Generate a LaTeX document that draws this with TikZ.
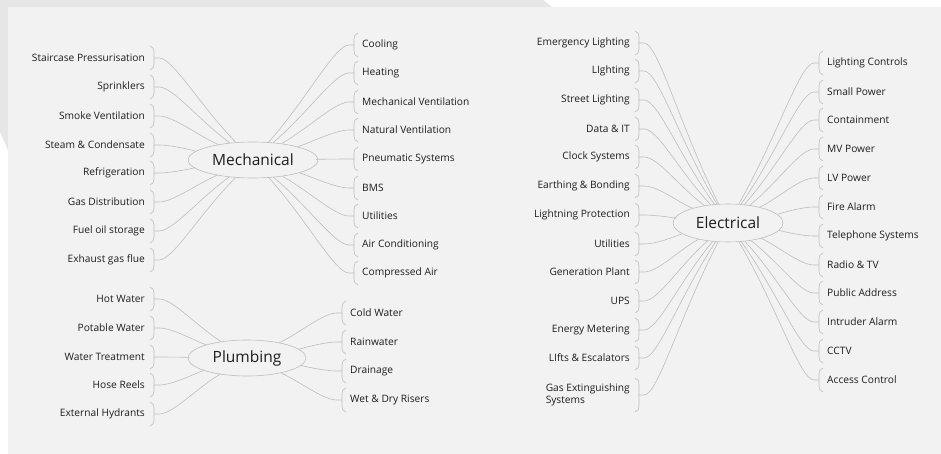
\documentclass[tikz,border=0pt]{standalone}
\usepackage{fontspec}
\setmainfont{Open Sans}
\usetikzlibrary{shapes.geometric,calc}
\definecolor{paper}{HTML}{F2F2F2}
\definecolor{framec}{HTML}{E6E6E6}
\definecolor{linec}{HTML}{BDBDBD}
\definecolor{ink}{HTML}{1E1E1E}
\tikzset{
  lbl/.style={font=\fontsize{10.2}{12}\selectfont, text=ink, inner sep=0pt},
  topic/.style={ellipse, draw=linec, fill=paper, line width=0.6pt, text=ink,
    font=\fontsize{15.5}{18}\selectfont, inner sep=0pt},
  conn/.style={draw=linec, line width=0.6pt},
  brk/.style={draw=linec, line width=0.6pt},
}
% left child: name, text-right x, y, text, parent
\newcommand\lkid[5]{%
  \node[lbl,anchor=east,align=left] (#1) at (#2,#3) {#4};
  \coordinate (#1b) at (#2+9,#3);
  \draw[brk] ($(#1b)+(-4,-\bh)$) .. controls ($(#1b)+(-1,-\bh+1)$) and ($(#1b)+(0,-\bh+3)$) .. ($(#1b)+(0,-\bh+6)$)
     -- ($(#1b)+(0,\bh-6)$) .. controls ($(#1b)+(0,\bh-3)$) and ($(#1b)+(-1,\bh-1)$) .. ($(#1b)+(-4,\bh)$);
  \draw[conn] (#1b) -- ++(5,0) .. controls +(14,0) and ($(#5.center)!0.55!(#1b)$) .. (#5);
}
% right child: name, text-left x, y, text, parent
\newcommand\rkid[5]{%
  \node[lbl,anchor=west,align=left] (#1) at (#2,#3) {#4};
  \coordinate (#1b) at (#2-8,#3);
  \draw[brk] ($(#1b)+(4,-\bh)$) .. controls ($(#1b)+(1,-\bh+1)$) and ($(#1b)+(0,-\bh+3)$) .. ($(#1b)+(0,-\bh+6)$)
     -- ($(#1b)+(0,\bh-6)$) .. controls ($(#1b)+(0,\bh-3)$) and ($(#1b)+(1,\bh-1)$) .. ($(#1b)+(4,\bh)$);
  \draw[conn] (#1b) -- ++(-5,0) .. controls +(-14,0) and ($(#5.center)!0.55!(#1b)$) .. (#5);
}
\begin{document}
\begin{tikzpicture}[x=1pt,y=-1pt]
\useasboundingbox (0,0) rectangle (941,454);
\fill[white] (0,0) rectangle (941,454);
\fill[framec] (0,0) -- (543,0) -- (552,7) -- (8,7) -- (8,150) -- (0,132) -- cycle;
\fill[paper] (8,7) rectangle (941,454);
\def\bh{12}

\node[topic, minimum width=130pt, minimum height=36pt] (mech) at (253,160) {Mechanical};
\node[topic, minimum width=118pt, minimum height=36pt] (plumb) at (247,358) {Plumbing};
\node[topic, minimum width=110pt, minimum height=38pt] (elec) at (728,223) {Electrical};

% Mechanical left
\lkid{m1}{145}{58}{Staircase Pressurisation}{mech}
\lkid{m2}{145}{87}{Sprinklers}{mech}
\lkid{m3}{145}{116}{Smoke Ventilation}{mech}
\lkid{m4}{145}{145}{Steam \& Condensate}{mech}
\lkid{m5}{145}{173}{Refrigeration}{mech}
\lkid{m6}{145}{202}{Gas Distribution}{mech}
\lkid{m7}{145}{231}{Fuel oil storage}{mech}
\lkid{m8}{145}{260}{Exhaust gas flue}{mech}
% Mechanical right
\rkid{m9}{362}{45}{Cooling}{mech}
\rkid{m10}{362}{73}{Heating}{mech}
\rkid{m11}{362}{102}{Mechanical Ventilation}{mech}
\rkid{m12}{362}{130}{Natural Ventilation}{mech}
\rkid{m13}{362}{159}{Pneumatic Systems}{mech}
\rkid{m14}{362}{188}{BMS}{mech}
\rkid{m15}{362}{216}{Utilities}{mech}
\rkid{m16}{362}{245}{Air Conditioning}{mech}
\rkid{m17}{362}{273}{Compressed Air}{mech}

% Plumbing
\lkid{p1}{145}{299}{Hot Water}{plumb}
\lkid{p2}{145}{328}{Potable Water}{plumb}
\lkid{p3}{145}{357}{Water Treatment}{plumb}
\lkid{p4}{145}{385}{Hose Reels}{plumb}
\lkid{p5}{145}{414}{External Hydrants}{plumb}
\rkid{p6}{350}{313}{Cold Water}{plumb}
\rkid{p7}{350}{342}{Rainwater}{plumb}
\rkid{p8}{350}{371}{Drainage}{plumb}
\rkid{p9}{350}{400}{Wet \& Dry Risers}{plumb}

% Electrical left
\lkid{e1}{630}{43}{Emergency Lighting}{elec}
\lkid{e2}{630}{71}{LIghting}{elec}
\lkid{e3}{630}{100}{Street Lighting}{elec}
\lkid{e4}{630}{129}{Data \& IT}{elec}
\lkid{e5}{630}{157}{Clock Systems}{elec}
\lkid{e6}{630}{186}{Earthing \& Bonding}{elec}
\lkid{e7}{630}{215}{Lightning Protection}{elec}
\lkid{e8}{630}{244}{Utilities}{elec}
\lkid{e9}{630}{272}{Generation Plant}{elec}
\lkid{e10}{630}{301}{UPS}{elec}
\lkid{e11}{630}{330}{Energy Metering}{elec}
\lkid{e12}{630}{358}{LIfts \& Escalators}{elec}
\def\bh{17}
\lkid{e13}{630}{395}{Gas Extinguishing\\Systems}{elec}
\def\bh{12}
% Electrical right
\rkid{e14}{827}{63}{Lighting Controls}{elec}
\rkid{e15}{827}{92}{Small Power}{elec}
\rkid{e16}{827}{120}{Containment}{elec}
\rkid{e17}{827}{149}{MV Power}{elec}
\rkid{e18}{827}{178}{LV Power}{elec}
\rkid{e19}{827}{207}{Fire Alarm}{elec}
\rkid{e20}{827}{236}{Telephone Systems}{elec}
\rkid{e21}{827}{265}{Radio \& TV}{elec}
\rkid{e22}{827}{293}{Public Address}{elec}
\rkid{e23}{827}{322}{Intruder Alarm}{elec}
\rkid{e24}{827}{351}{CCTV}{elec}
\rkid{e25}{827}{380}{Access Control}{elec}
\end{tikzpicture}
\end{document}
